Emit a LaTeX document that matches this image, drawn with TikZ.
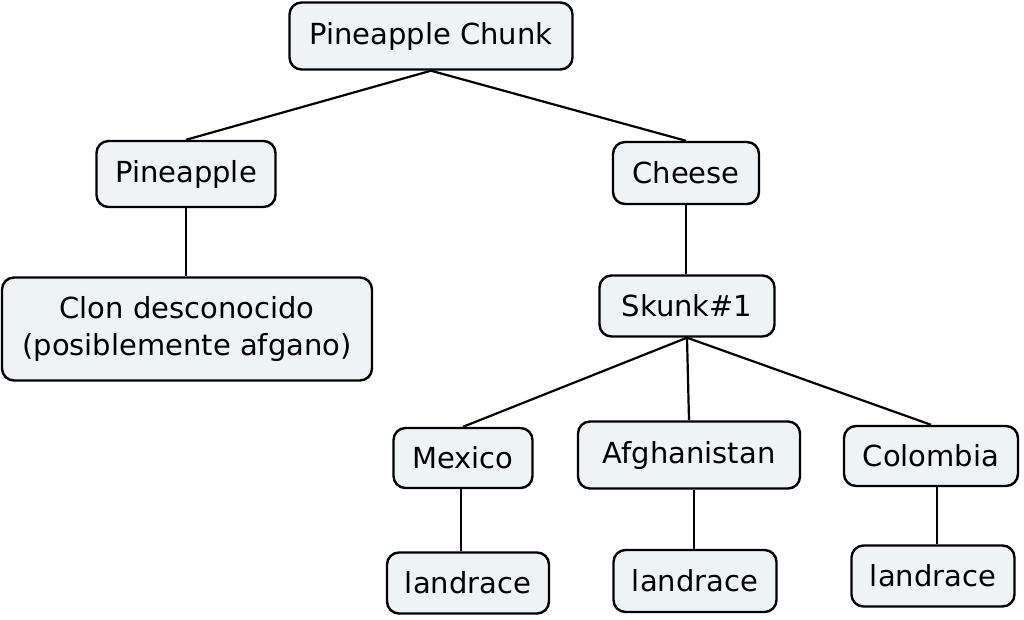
\documentclass[tikz,border=0pt]{standalone}
\usepackage{fontspec}
\setmainfont{DejaVu Sans}
\begin{document}
\begin{tikzpicture}[x=1pt,y=-1pt,
  box/.style={draw, line width=2.4pt, rounded corners=12pt, fill={rgb,255:red,238;green,243;blue,245}, inner sep=0pt, font=\fontsize{29}{37}\selectfont, align=center},
  conn/.style={line width=2.2pt}]
\useasboundingbox (0,0) rectangle (1024,619);
\node[box, minimum width=283pt, minimum height=67pt] (chunk) at (431,36) {Pineapple Chunk};
\node[box, minimum width=179pt, minimum height=66pt] (pine) at (186,174) {Pineapple};
\node[box, minimum width=146pt, minimum height=62pt] (cheese) at (686,173) {Cheese};
\node[box, minimum width=370pt, minimum height=103pt] (clon) at (187,329) {Clon desconocido\\(posiblemente afgano)};
\node[box, minimum width=175pt, minimum height=61pt] (skunk) at (687,306) {Skunk\#1};
\node[box, minimum width=139pt, minimum height=60pt] (mex) at (463,458) {Mexico};
\node[box, minimum width=222pt, minimum height=67pt] (afg) at (689,455) {Afghanistan};
\node[box, minimum width=174pt, minimum height=60pt] (col) at (931,456) {Colombia};
\node[box, minimum width=162pt, minimum height=61pt] (l1) at (468,583) {landrace};
\node[box, minimum width=163pt, minimum height=62pt] (l2) at (695,581) {landrace};
\node[box, minimum width=163pt, minimum height=61pt] (l3) at (933,576) {landrace};
\draw[conn] (chunk.south) -- (pine.north);
\draw[conn] (chunk.south) -- (cheese.north);
\draw[conn] (pine.south) -- (clon.north -| pine.south);
\draw[conn] (cheese.south) -- (skunk.north -| cheese.south);
\draw[conn] (skunk.south) -- (mex.north);
\draw[conn] (skunk.south) -- (afg.north);
\draw[conn] (skunk.south) -- (col.north);
\draw[conn] (mex.south -| 461,0) -- (l1.north -| 461,0);
\draw[conn] (afg.south -| 694,0) -- (l2.north -| 694,0);
\draw[conn] (col.south -| 937,0) -- (l3.north -| 937,0);
\end{tikzpicture}
\end{document}
